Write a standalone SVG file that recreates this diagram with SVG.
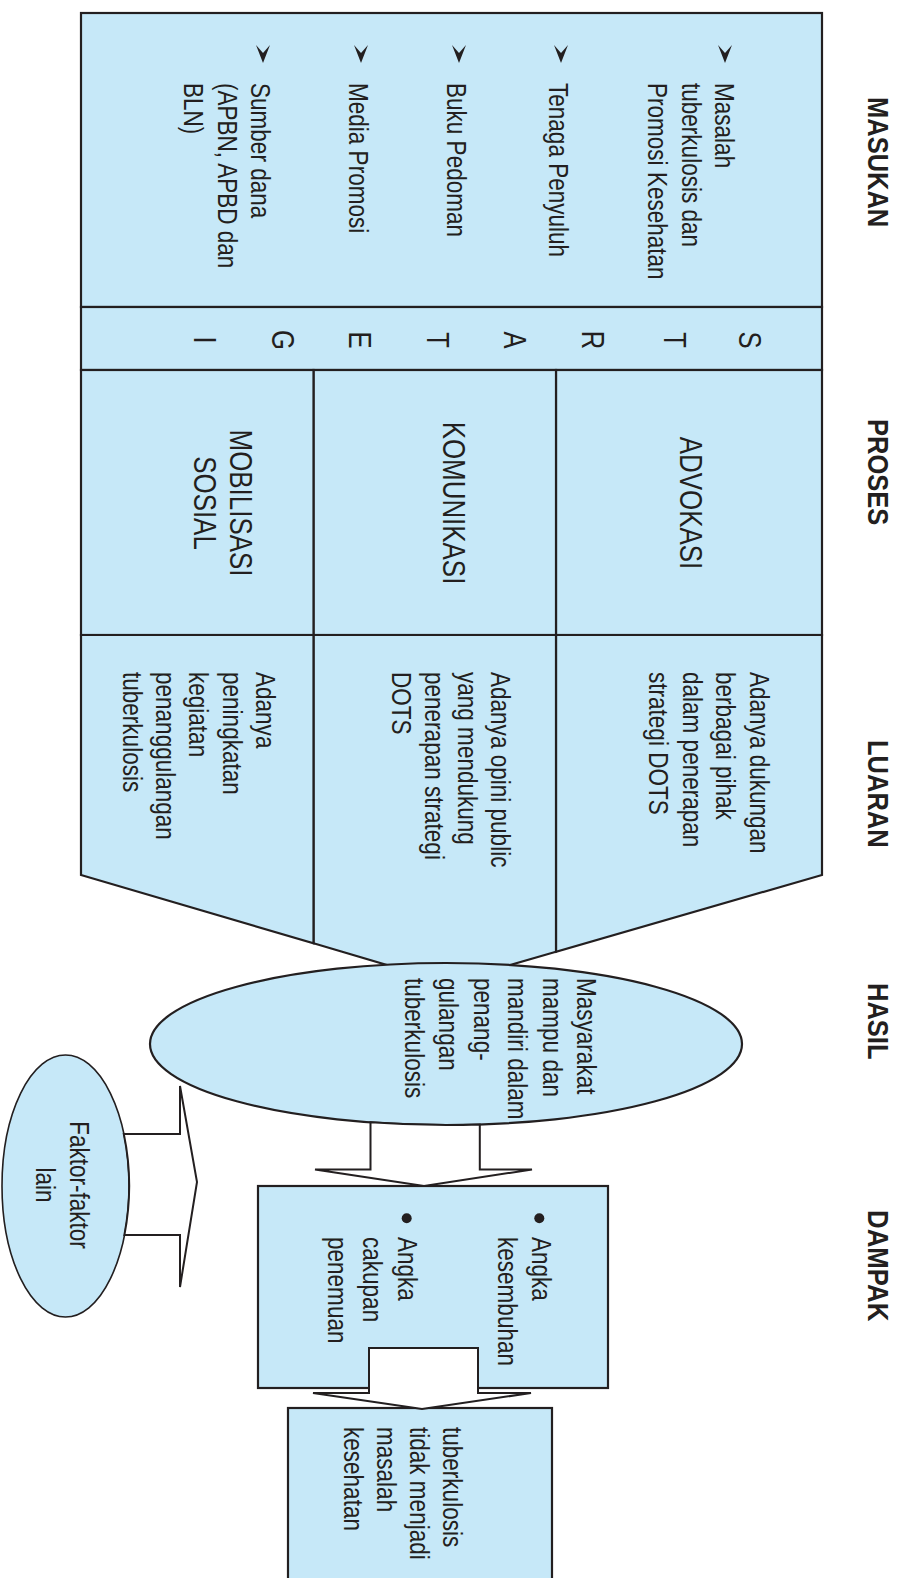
<svg xmlns="http://www.w3.org/2000/svg" width="906" height="1578" viewBox="0 0 906 1578">
<defs>
<style>
.box{fill:#c6e8f8;stroke:#231f20;stroke-width:2.2}
.arr{fill:#ffffff;stroke:#231f20;stroke-width:2}
.t{font-family:"Liberation Sans",Arial,sans-serif;font-size:28px;fill:#231f20}
.big{font-size:32px}
.h{font-family:"Liberation Sans",Arial,sans-serif;font-size:30px;font-weight:bold;fill:#231f20}
</style>
<path id="bul" d="M-7,0 L0,18 L7,0 L0,8 Z" fill="#231f20"/>
</defs>
<rect x="0" y="0" width="906" height="1578" fill="#ffffff"/>

<g id="headers">
<text class="h" transform="translate(868,97) rotate(90) scale(0.85,1)">MASUKAN</text>
<text class="h" transform="translate(868,419) rotate(90) scale(0.85,1)">PROSES</text>
<text class="h" transform="translate(868,740) rotate(90) scale(0.85,1)">LUARAN</text>
<text class="h" transform="translate(868,983) rotate(90) scale(0.85,1)">HASIL</text>
<text class="h" transform="translate(868,1210) rotate(90) scale(0.86,1)">DAMPAK</text>
</g>

<g id="masukan">
<rect class="box" x="81" y="13" width="741" height="294"/>
<use href="#bul" x="725" y="45"/>
<use href="#bul" x="561" y="45"/>
<use href="#bul" x="459" y="45"/>
<use href="#bul" x="361" y="45"/>
<use href="#bul" x="263" y="45"/>
<text class="t" transform="translate(715,83) rotate(90) scale(0.805,1)"><tspan x="0" y="0">Masalah</tspan><tspan x="0" dy="33.5">tuberkulosis dan</tspan><tspan x="0" dy="33.5">Promosi Kesehatan</tspan></text>
<text class="t" transform="translate(549,83) rotate(90) scale(0.805,1)">Tenaga Penyuluh</text>
<text class="t" transform="translate(447,83) rotate(90) scale(0.805,1)">Buku Pedoman</text>
<text class="t" transform="translate(349,83) rotate(90) scale(0.805,1)">Media Promosi</text>
<text class="t" transform="translate(251,83) rotate(90) scale(0.805,1)"><tspan x="0" y="0">Sumber dana</tspan><tspan x="0" dy="33.5">(APBN, APBD dan</tspan><tspan x="0" dy="33.5">BLN)</tspan></text>
</g>

<g id="strategi">
<rect class="box" x="81" y="307" width="741" height="63"/>
<g class="t big" text-anchor="middle">
<text transform="translate(738.5,340) rotate(90) scale(0.8,1)">S</text>
<text transform="translate(663.5,340) rotate(90) scale(0.8,1)">T</text>
<text transform="translate(581.5,340) rotate(90) scale(0.8,1)">R</text>
<text transform="translate(503.5,340) rotate(90) scale(0.8,1)">A</text>
<text transform="translate(426.5,340) rotate(90) scale(0.8,1)">T</text>
<text transform="translate(348.5,340) rotate(90) scale(0.8,1)">E</text>
<text transform="translate(271.5,340) rotate(90) scale(0.8,1)">G</text>
<text transform="translate(194,340) rotate(90) scale(0.8,1)">I</text>
</g>
</g>

<g id="proses-advokasi">
<rect class="box" x="556" y="370" width="266" height="265"/>
<text class="t big" text-anchor="middle" transform="translate(680,503) rotate(90) scale(0.81,1)">ADVOKASI</text>
</g>
<g id="proses-komunikasi">
<rect class="box" x="313.5" y="370" width="242.5" height="265"/>
<text class="t big" text-anchor="middle" transform="translate(443.3,503) rotate(90) scale(0.81,1)">KOMUNIKASI</text>
</g>
<g id="proses-mobilisasi">
<rect class="box" x="81" y="370" width="232.5" height="265"/>
<text class="t big" text-anchor="middle" transform="translate(230.3,503) rotate(90) scale(0.81,1)"><tspan x="0" y="0">MOBILISASI</tspan><tspan x="0" dy="36.3">SOSIAL</tspan></text>
</g>

<g id="luaran-advokasi">
<polygon class="box" points="556,635 822,635 822,875 556,951.7"/>
<text class="t" transform="translate(749.7,672) rotate(90) scale(0.805,1)"><tspan x="0" y="0">Adanya dukungan</tspan><tspan x="0" dy="33.5">berbagai pihak</tspan><tspan x="0" dy="33.5">dalam penerapan</tspan><tspan x="0" dy="33.5">strategi DOTS</tspan></text>
</g>
<g id="luaran-komunikasi">
<polygon class="box" points="313.5,635 556,635 556,951.7 448,983 313.5,943.3"/>
<text class="t" transform="translate(490.8,672) rotate(90) scale(0.805,1)"><tspan x="0" y="0">Adanya opini public</tspan><tspan x="0" dy="33">yang mendukung</tspan><tspan x="0" dy="33">penerapan strategi</tspan><tspan x="0" dy="33">DOTS</tspan></text>
</g>
<g id="luaran-mobilisasi">
<polygon class="box" points="81,635 313.5,635 313.5,943.3 81,875"/>
<text class="t" transform="translate(256,672) rotate(90) scale(0.805,1)"><tspan x="0" y="0">Adanya</tspan><tspan x="0" dy="33.3">peningkatan</tspan><tspan x="0" dy="33.3">kegiatan</tspan><tspan x="0" dy="33.3">penanggulangan</tspan><tspan x="0" dy="33.3">tuberkulosis</tspan></text>
</g>

<g id="hasil">
<ellipse class="box" cx="446" cy="1044" rx="296" ry="81"/>
<text class="t" transform="translate(577,978) rotate(90) scale(0.805,1)"><tspan x="0" y="0">Masyarakat</tspan><tspan x="0" dy="34.5">mampu dan</tspan><tspan x="0" dy="34.5">mandiri dalam</tspan><tspan x="0" dy="34.5">penang-</tspan><tspan x="0" dy="34.5">gulangan</tspan><tspan x="0" dy="34.5">tuberkulosis</tspan></text>
</g>

<g id="faktor-lain">
<ellipse class="box" cx="65.5" cy="1186" rx="63.5" ry="131" style="stroke-width:1.6"/>
<text class="t" text-anchor="middle" transform="translate(69.5,1185) rotate(90) scale(0.805,1)"><tspan x="0" y="0">Faktor-faktor</tspan><tspan x="0" dy="34">lain</tspan></text>
</g>

<g id="dampak">
<rect class="box" x="258" y="1186" width="350" height="202"/>
<circle cx="539.3" cy="1218.3" r="5" fill="#231f20"/>
<circle cx="406.7" cy="1218.3" r="5" fill="#231f20"/>
<text class="t" transform="translate(531.7,1237) rotate(90) scale(0.805,1)"><tspan x="0" y="0">Angka</tspan><tspan x="0" dy="33.7">kesembuhan</tspan></text>
<text class="t" transform="translate(398,1237) rotate(90) scale(0.805,1)"><tspan x="0" y="0">Angka</tspan><tspan x="0" dy="35">cakupan</tspan><tspan x="0" dy="35">penemuan</tspan></text>
</g>

<g id="tujuan">
<rect class="box" x="288" y="1408" width="264" height="200"/>
<text class="t" transform="translate(442.5,1427) rotate(90) scale(0.805,1)"><tspan x="0" y="0">tuberkulosis</tspan><tspan x="0" dy="33">tidak menjadi</tspan><tspan x="0" dy="33">masalah</tspan><tspan x="0" dy="33">kesehatan</tspan></text>
</g>

<g id="connectors">
<path class="arr" d="M479.8,1124.5 L479.8,1169.5 L532,1169.5 L424,1186 L315,1169.5 L370.5,1169.5 L370.5,1122.3 A296,81 0 0 0 479.8,1124.5 Z"/>
<path class="arr" d="M369,1348 L478,1348 L478,1393 L531,1393 L422,1409 L313,1393 L369,1393 Z"/>
<path class="arr" d="M123.8,1134 L180,1134 L180,1086 L197,1182 L180,1287 L180,1235 L124.4,1235 A63.5,131 0 0 0 123.8,1134 Z"/>
</g>
</svg>
